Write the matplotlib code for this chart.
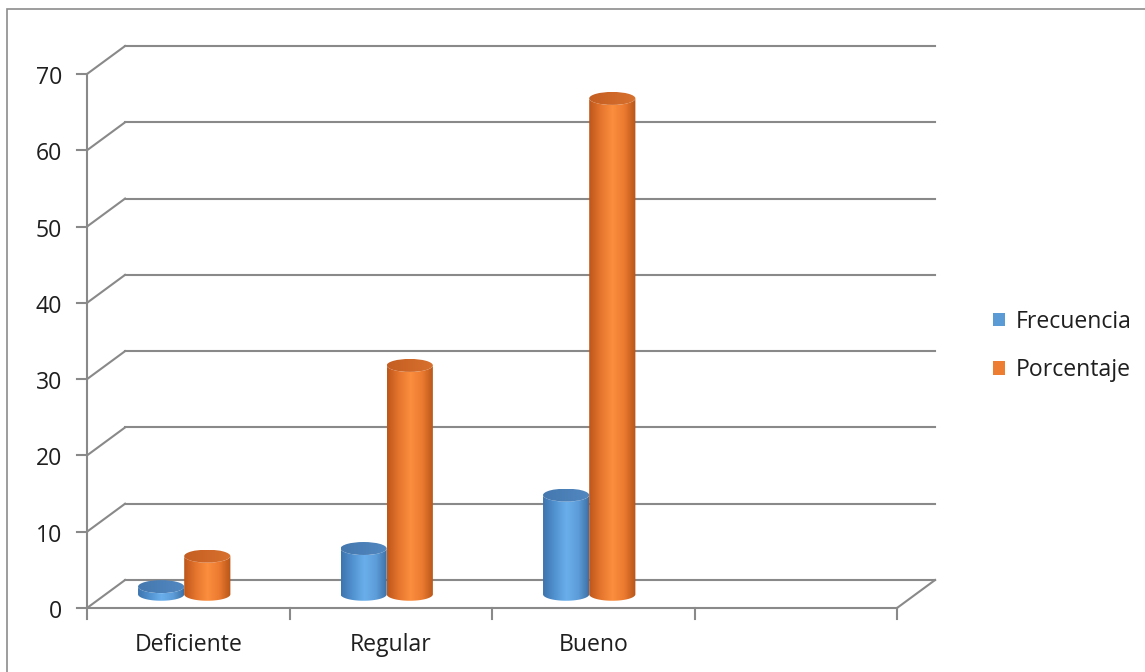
import numpy as np
import matplotlib
matplotlib.use("Agg")
import matplotlib.pyplot as plt
import matplotlib.patches as mpatches
from matplotlib.colors import LinearSegmentedColormap
from matplotlib.transforms import offset_copy

plt.rcParams["font.family"] = ["Open Sans", "DejaVu Sans"]

# datos
categorias = ["Deficiente", "Regular", "Bueno", ""]
frecuencia = [1, 6, 13]
porcentaje = [5, 30, 65]
series = ["Frecuencia", "Porcentaje"]
y_ticks = [0, 10, 20, 30, 40, 50, 60, 70]

# estilo
GRID = "#898989"
TEXT = "#1f1f1f"
FS = 16.6
COLOR_SERIE = ["#5B9BD5", "#ED7D31"]
GRAD_SERIE = [
    ["#3D74AD", "#5192D0", "#6AAFEB", "#5D9DD9", "#3A6DA1"],
    ["#BD561A", "#E5752D", "#FB8E3F", "#EC7B30", "#B55418"],
]
TAPA_SERIE = [["#4478AF", "#5288C0"], ["#C45E22", "#D8712E"]]

DX, DY = 0.188, 3.67      # profundidad del piso / pared (unidades de datos)
BASE = 1.8                # altura del centro de la base de los cilindros
ANCHO = 0.228             # ancho de cada cilindro
ELIP = 1.7                # alto de las elipses

fig = plt.figure(figsize=(11.45, 6.72), dpi=100)
ax = fig.add_axes([87 / 1145, 64 / 672, 810 / 1145, 534 / 672])
ax.set_xlim(0, len(categorias))
ax.set_ylim(0, y_ticks[-1])
ax.set_autoscale_on(False)
ax.axis("off")

n = len(categorias)

# pared del fondo y lineas diagonales
for v in y_ticks:
    ax.plot([0, DX], [v, v + DY], color=GRID, lw=1.5, clip_on=False, zorder=1)
    ax.plot([DX, n + DX], [v + DY, v + DY], color=GRID, lw=1.5, clip_on=False, zorder=1)

# piso: borde frontal y diagonal derecha
ax.plot([0, n], [0, 0], color=GRID, lw=1.5, clip_on=False, zorder=1)
ax.plot([n, n + DX], [0, DY], color=GRID, lw=1.5, clip_on=False, zorder=1)
# eje vertical
ax.plot([0, 0], [0, y_ticks[-1]], color=GRID, lw=1.5, clip_on=False, zorder=1)

# marcas de los ejes
for v in y_ticks:
    ax.plot([0, -10 / 202.5], [v, v], color=GRID, lw=1.5, clip_on=False, zorder=1)
for i in range(n + 1):
    ax.plot([i, i], [0, -11 / 7.629], color=GRID, lw=1.5, clip_on=False, zorder=1)

# etiquetas de los ejes
lab_y = offset_copy(ax.transData, fig=fig, x=-25, y=-10, units="dots")
for v in y_ticks:
    ax.text(0, v, str(v), transform=lab_y, ha="right", va="baseline",
            fontsize=FS, color=TEXT)
lab_x = offset_copy(ax.transData, fig=fig, x=0, y=-43, units="dots")
for i, c in enumerate(categorias):
    ax.text(i + 0.5, 0, c, transform=lab_x, ha="center", va="baseline",
            fontsize=FS, color=TEXT)


def cilindro(ax, xc, valor, colores, colores_tapa, z):
    a = ANCHO / 2
    b = ELIP / 2
    base = BASE
    top = BASE + valor
    t = np.linspace(0, np.pi, 80)
    abajo = np.column_stack([xc - a * np.cos(t), base - b * np.sin(t)])
    arriba = np.column_stack([xc + a * np.cos(t), top - b * np.sin(t)])
    verts = np.vstack([abajo, arriba])
    cuerpo = mpatches.Polygon(verts, closed=True, facecolor="none",
                              edgecolor="none", zorder=z)
    ax.add_patch(cuerpo)
    grad = np.linspace(0, 1, 256)[None, :]
    cmap = LinearSegmentedColormap.from_list("c", colores)
    img = ax.imshow(grad, extent=[xc - a, xc + a, base - b, top + b],
                    aspect="auto", cmap=cmap, interpolation="bilinear",
                    origin="lower", zorder=z)
    img.set_clip_path(cuerpo)
    # tapa superior con un leve degradado
    tapa = mpatches.Ellipse((xc, top), ANCHO, ELIP, facecolor="none",
                            edgecolor="none", zorder=z + 0.1)
    ax.add_patch(tapa)
    cmap_t = LinearSegmentedColormap.from_list("t", colores_tapa)
    img_t = ax.imshow(grad, extent=[xc - a, xc + a, top - b, top + b],
                      aspect="auto", cmap=cmap_t, interpolation="bilinear",
                      origin="lower", zorder=z + 0.1)
    img_t.set_clip_path(tapa)


valores = [frecuencia, porcentaje]
for k, vals in enumerate(valores):
    for i, v in enumerate(vals):
        xc = i + 0.5 - 0.02 + (k - 0.5) * ANCHO
        cilindro(ax, xc, v, GRAD_SERIE[k], TAPA_SERIE[k], 3 + k)

ax.set_xlim(0, len(categorias))
ax.set_ylim(0, y_ticks[-1])

# leyenda
handles = [mpatches.Patch(facecolor=COLOR_SERIE[k], edgecolor="none", label=s)
           for k, s in enumerate(series)]
fig.legend(handles=handles, loc="center left",
           bbox_to_anchor=(993 / 1145, 1 - 346 / 672),
           bbox_transform=fig.transFigure, frameon=False, fontsize=FS,
           handlelength=0.52, handleheight=0.52, handletextpad=0.45,
           labelspacing=1.05, borderpad=0, borderaxespad=0,
           labelcolor=TEXT)

# borde del area del grafico
fig.add_artist(mpatches.Rectangle((7 / 1145, -0.1), 1.2, (672 - 9) / 672 + 0.1,
                                  transform=fig.transFigure, fill=False,
                                  edgecolor="#8c8c8c", lw=1.2))

fig.savefig("out.png", dpi=100, facecolor="white")
